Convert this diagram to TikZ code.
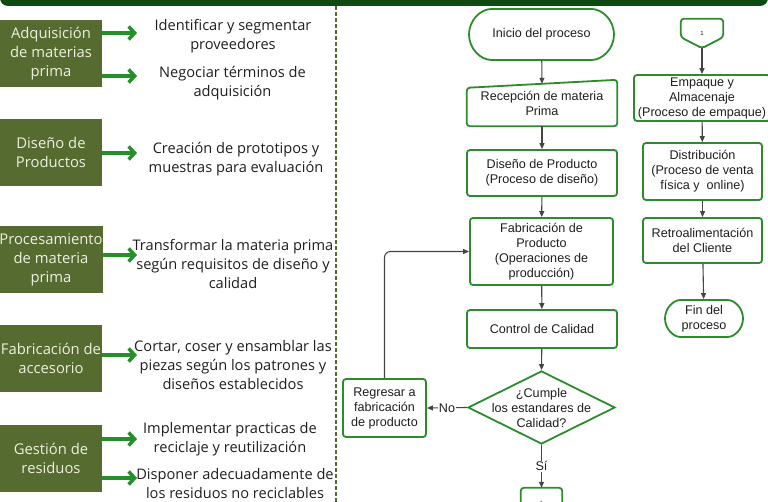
\documentclass[tikz,border=0pt]{standalone}
\usepackage{fontspec}
\setmainfont{Liberation Sans}
\newfontfamily\canva{Open Sans}
\usetikzlibrary{arrows.meta,shapes.geometric,shapes.misc}

\begin{document}
\begin{tikzpicture}[x=1pt,y=-1pt,
    caja/.style={fill=oliva,text=crema,minimum width=102pt,minimum height=67pt,inner sep=0pt,align=center,font=\canva\fontsize{14.8}{19}\selectfont},
    texto/.style={align=center,text=tinta,font=\canva\fontsize{14.6}{19}\selectfont},
    flechaverde/.style={draw=verdeflecha,line width=3.5pt,-{Straight Barb[length=6pt,width=13pt]}},
    bloque/.style={draw=verdeborde,line width=1.8pt,rounded corners=3pt,align=center,inner sep=2pt,text=tinta,font=\fontsize{12.6}{15}\selectfont},
    forma/.style={align=center,inner sep=0pt,text=tinta,font=\fontsize{12.6}{15}\selectfont},
    conector/.style={draw=gris,line width=1.1pt,-{Triangle[length=6pt,width=5pt]}},
    etiqueta/.style={fill=white,inner sep=1pt,text=tinta,font=\fontsize{12.6}{14}\selectfont}]
    %colores
    \definecolor{verdeoscuro}{HTML}{0E4A12}
    \definecolor{oliva}{HTML}{566B30}
    \definecolor{crema}{HTML}{EEF0E0}
    \definecolor{verdeflecha}{HTML}{23902A}
    \definecolor{verdeborde}{HTML}{2A8C2A}
    \definecolor{gris}{HTML}{454545}
    \definecolor{tinta}{HTML}{1E1E1E}

    \useasboundingbox (0,0) rectangle (768,502);

    % Barra superior y separador
    \fill[verdeoscuro,rounded corners=8pt] (0,-20) rectangle (768,6);
    \draw[oliva,line width=1.3pt,dash pattern=on 4pt off 2pt] (336,6) -- (336,502);

    % Etapas (columna izquierda)
    \foreach \n/\y/\txt in {1/53.5/{Adquisición\\de materias\\prima},2/152.5/{Diseño de\\Productos},3/259.5/{Procesamiento\\de materia\\prima},4/358.5/{Fabricación de\\accesorio},5/458.5/{Gestión de\\residuos}}
    \node[caja] (a\n) at (51,\y) {\txt};

    % Actividades
    \node[texto] (t1) at (233,36.5) {Identificar y segmentar\\proveedores};
    \node[texto] (t2) at (232.5,83) {Negociar términos de\\adquisición};
    \node[texto] (t3) at (236,159.5) {Creación de prototipos y\\muestras para evaluación};
    \node[texto] (t4) at (233,264) {Transformar la materia prima\\según requisitos de diseño y\\calidad};
    \node[texto] (t5) at (233,365) {Cortar, coser y ensamblar las\\piezas según los patrones y\\diseños establecidos};
    \node[texto] (t6) at (230,439) {Implementar practicas de\\reciclaje y reutilización};
    \node[texto] (t7) at (235,483.5) {Disponer adecuadamente de\\los residuos no reciclables};

    % Flechas verdes
    \foreach \n/\c/\y in {1/1/33,2/1/76,3/2/153,4/3/255,5/4/355,6/5/439,7/5/478}{
        \coordinate (p\n) at (137,\y);
        \draw[flechaverde] (a\c.east |- p\n) -- (p\n);
    }

    % Diagrama de flujo
    \node[bloque,rounded rectangle,minimum width=149pt,minimum height=51pt] (inicio) at (541.5,34.5) {Inicio del proceso};
    \node[forma,minimum width=150pt,minimum height=46pt] (recep) at (542,103) {Recepción de materia\\Prima};
    \draw[draw=verdeborde,line width=1.8pt,rounded corners=3pt] ([yshift=-8pt]recep.north west) -- (recep.north east) -- (recep.south east) -- (recep.south west) -- cycle;
    \node[bloque,minimum width=150pt,minimum height=46pt] (diseno) at (542,173) {Diseño de Producto\\(Proceso de diseño)};
    \node[bloque,minimum width=143pt,minimum height=67pt] (fabric) at (541.5,251.5) {Fabricación de\\Producto\\(Operaciones de\\producción)};
    \node[bloque,minimum width=150pt,minimum height=38pt] (control) at (542,329) {Control de Calidad};
    \node[diamond,draw=verdeborde,line width=1.8pt,minimum width=147pt,minimum height=73pt,inner sep=0pt] (cumple) at (541.5,407.5) {};
    \node[forma] at (cumple) {¿Cumple\\los estandares de\\Calidad?};
    \node[bloque,minimum width=83pt,minimum height=58pt] (regresar) at (384.5,408) {Regresar a\\fabricación\\de producto};
    \node[forma,minimum width=41pt,minimum height=30pt,font=\fontsize{6}{7}\selectfont] (salida) at (541.5,503) {1};
    \draw[draw=verdeborde,line width=1.8pt,rounded corners=3pt] ([yshift=-11pt]salida.south west) -- (salida.north west) -- (salida.north east) -- ([yshift=11pt]salida.south east) -- (salida.south) -- cycle;

    \draw[conector] (inicio) -- ([yshift=-4pt]recep.north);
    \draw[conector] (recep) -- (diseno);
    \draw[conector] (diseno) -- (fabric);
    \draw[conector] (fabric) -- (control);
    \draw[conector] (control) -- (cumple.north);
    \draw[conector] (cumple.west) -- node[etiqueta] {No} (regresar.east);
    \draw[conector,rounded corners=6pt] (regresar.north) |- (fabric.west);
    \draw[conector] (cumple.south) -- node[etiqueta] {Sí} (salida.north);

    % Segunda columna
    \node[forma,minimum width=42pt,minimum height=29pt,font=\fontsize{6}{7}\selectfont] (uno) at (702,33.5) {1};
    \draw[draw=verdeborde,line width=1.8pt,rounded corners=3pt] (uno.north west) -- (uno.north east) -- ([yshift=11pt]uno.south east) -- (uno.south) -- ([yshift=11pt]uno.south west) -- cycle;
    \node[bloque,minimum width=136pt,minimum height=46pt] (empaque) at (702,98) {Empaque y\\Almacenaje\\(Proceso de empaque)};
    \node[bloque,minimum width=119pt,minimum height=57pt] (distrib) at (702.5,171.5) {Distribución\\(Proceso de venta\\física y\ \ online)};
    \node[bloque,minimum width=119pt,minimum height=45pt] (retro) at (702.5,240.5) {Retroalimentación\\del Cliente};
    \node[bloque,rounded rectangle,minimum width=82pt,minimum height=37pt] (fin) at (704,318.5) {Fin del\\proceso};

    \draw[conector] (uno.south) -- (empaque);
    \draw[conector] (empaque) -- (distrib);
    \draw[conector] (distrib) -- (retro);
    \draw[conector] (retro) -- (fin);
\end{tikzpicture}
\end{document}
